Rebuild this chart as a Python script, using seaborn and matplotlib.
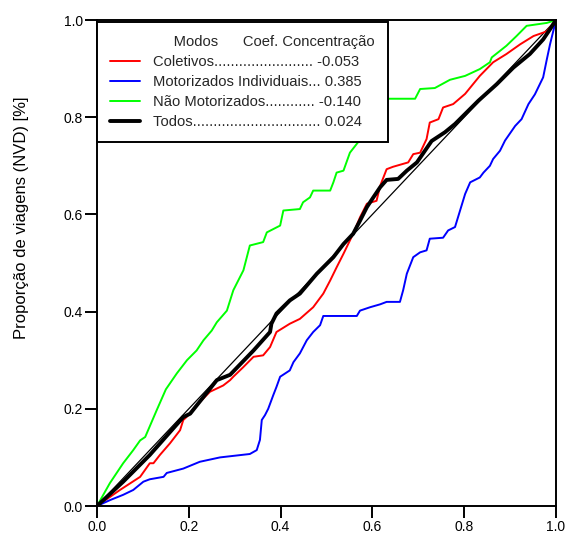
import numpy as np
import pandas as pd
import matplotlib
matplotlib.use("Agg")
import matplotlib.pyplot as plt
import seaborn as sns
from matplotlib.lines import Line2D
from matplotlib.font_manager import FontProperties

# ---------------- data ----------------
diag_x = [0.0, 1.0]
diag_y = [0.0, 1.0]

col_x = [0, 0.05, 0.094, 0.115, 0.123, 0.137, 0.159, 0.181, 0.188, 0.195, 0.217, 0.246, 0.275, 0.29,
         0.297, 0.319, 0.341, 0.362, 0.377, 0.391, 0.42, 0.442, 0.471, 0.493, 0.508, 0.522, 0.537,
         0.558, 0.573, 0.588, 0.609, 0.617, 0.631, 0.645, 0.678, 0.689, 0.704, 0.718, 0.725, 0.744,
         0.754, 0.776, 0.802, 0.834, 0.863, 0.892, 0.922, 0.951, 0.972, 0.98, 1.0]
col_y = [0, 0.033, 0.06, 0.088, 0.088, 0.105, 0.129, 0.156, 0.177, 0.183, 0.207, 0.235, 0.248, 0.259,
         0.266, 0.286, 0.307, 0.31, 0.327, 0.358, 0.375, 0.385, 0.409, 0.437, 0.464, 0.491, 0.519,
         0.56, 0.594, 0.622, 0.628, 0.659, 0.693, 0.698, 0.707, 0.724, 0.727, 0.755, 0.789, 0.796,
         0.82, 0.827, 0.848, 0.885, 0.913, 0.93, 0.95, 0.967, 0.974, 0.977, 1.0]

mot_x = [0, 0.028, 0.057, 0.079, 0.101, 0.115, 0.145, 0.152, 0.188, 0.224, 0.268, 0.333, 0.348, 0.355,
         0.359, 0.366, 0.373, 0.384, 0.391, 0.399, 0.42, 0.428, 0.442, 0.457, 0.471, 0.486, 0.493,
         0.566, 0.573, 0.595, 0.617, 0.631, 0.66, 0.667, 0.675, 0.689, 0.704, 0.718, 0.725, 0.754,
         0.765, 0.78, 0.791, 0.802, 0.813, 0.834, 0.842, 0.856, 0.863, 0.878, 0.889, 0.911, 0.925,
         0.94, 0.954, 0.972, 0.98, 0.987, 0.994, 1.0]
mot_y = [0, 0.012, 0.023, 0.033, 0.05, 0.055, 0.06, 0.068, 0.077, 0.091, 0.10, 0.107, 0.115, 0.136,
         0.177, 0.187, 0.20, 0.228, 0.245, 0.266, 0.279, 0.296, 0.314, 0.341, 0.358, 0.372, 0.391,
         0.391, 0.402, 0.409, 0.415, 0.42, 0.42, 0.444, 0.478, 0.512, 0.522, 0.526, 0.55, 0.552,
         0.567, 0.574, 0.608, 0.642, 0.666, 0.676, 0.686, 0.70, 0.714, 0.731, 0.752, 0.782, 0.796,
         0.827, 0.847, 0.882, 0.919, 0.95, 0.977, 1.0]

nmot_x = [0, 0.028, 0.057, 0.079, 0.094, 0.105, 0.13, 0.15, 0.174, 0.196, 0.217, 0.232, 0.25, 0.261,
          0.283, 0.297, 0.319, 0.333, 0.362, 0.37, 0.399, 0.406, 0.442, 0.449, 0.464, 0.471, 0.508,
          0.515, 0.522, 0.537, 0.551, 0.57, 0.6, 0.62, 0.635, 0.693, 0.704, 0.736, 0.769, 0.802,
          0.834, 0.856, 0.86, 0.892, 0.914, 0.936, 0.98, 1.0]
nmot_y = [0, 0.047, 0.088, 0.115, 0.135, 0.142, 0.197, 0.24, 0.273, 0.30, 0.32, 0.341, 0.361, 0.378,
          0.402, 0.444, 0.485, 0.536, 0.543, 0.563, 0.577, 0.608, 0.611, 0.625, 0.635, 0.649, 0.649,
          0.666, 0.686, 0.69, 0.727, 0.75, 0.79, 0.815, 0.838, 0.838, 0.858, 0.86, 0.877, 0.885,
          0.899, 0.913, 0.923, 0.947, 0.967, 0.988, 0.994, 1.0]

tod_x = [0, 0.057, 0.115, 0.188, 0.203, 0.261, 0.29, 0.341, 0.377, 0.38, 0.391, 0.42, 0.442, 0.479,
         0.515, 0.537, 0.558, 0.573, 0.588, 0.602, 0.617, 0.631, 0.656, 0.675, 0.697, 0.729, 0.758,
         0.78, 0.831, 0.871, 0.907, 0.943, 0.972, 0.987, 1.0]
tod_y = [0, 0.05, 0.105, 0.183, 0.19, 0.259, 0.27, 0.32, 0.358, 0.375, 0.396, 0.423, 0.437, 0.478,
         0.512, 0.539, 0.56, 0.587, 0.615, 0.635, 0.656, 0.671, 0.673, 0.69, 0.707, 0.751, 0.769,
         0.786, 0.834, 0.868, 0.902, 0.93, 0.96, 0.981, 1.0]

modes = ["Coletivos", "Motorizados Individuais", "Não Motorizados", "Todos"]
coefs = ["-0.053", "0.385", "-0.140", "0.024"]
header_left = "Modos"
header_right = "Coef. Concentração"
tick_vals = [0.0, 0.2, 0.4, 0.6, 0.8, 1.0]
tick_labels = ["0.0", "0.2", "0.4", "0.6", "0.8", "1.0"]
ylabel = "Proporção de viagens (NVD) [%]"

# ---------------- style ----------------
sns.set_style("ticks")
plt.rcParams["font.family"] = ["Liberation Sans", "DejaVu Sans"]

fig = plt.figure(figsize=(5.69, 5.43), dpi=100)
ax = fig.add_axes([97 / 569, 1 - 506 / 543, 459 / 569, 486 / 543])

sns.lineplot(x=diag_x, y=diag_y, color="black", lw=0.9, sort=False, estimator=None, ax=ax, legend=False)
series = [(col_x, col_y, "#ff0000", 1.4), (mot_x, mot_y, "#0000ff", 1.4),
          (nmot_x, nmot_y, "#00ff00", 1.4), (tod_x, tod_y, "black", 2.8)]
for xs, ys, c, lw in series:
    sns.lineplot(x=xs, y=ys, color=c, lw=lw, sort=False, estimator=None, ax=ax, legend=False)

ax.set_xlim(0, 1)
ax.set_ylim(0, 1)
ax.set_xticks(tick_vals)
ax.set_xticklabels(tick_labels)
ax.set_yticks(tick_vals)
ax.set_yticklabels(tick_labels)
ax.tick_params(direction="out", length=8.5, width=1.4, pad=1.5, labelsize=10,
               colors="black", right=False, top=False)
for s in ax.spines.values():
    s.set_visible(True)
    s.set_color("black")
    s.set_linewidth(1.4)
ax.set_xlabel("")
ax.set_ylabel(ylabel, fontsize=12, color="black")
ax.yaxis.set_label_coords(-0.149, 0.594)

# ---------------- legend ----------------
leg_fs = 10.6
fp = FontProperties(family=["Liberation Sans"], size=leg_fs)
renderer = fig.canvas.get_renderer()

def tw(s):
    return renderer.get_text_width_height_descent(s, fp, ismath=False)[0]

target = tw("Motorizados Individuais... 0.385")
labels = []
for name, cf in zip(modes, coefs):
    n = 0
    while tw(name + "." * (n + 1) + " " + cf) <= target + 1.0:
        n += 1
    labels.append(name + "." * n + " " + cf)

header = "     " + header_left + "      " + header_right
handles = [Line2D([], [], color="none")] + list(ax.lines[1:5])
labels = [header] + labels

leg = ax.legend(handles, labels, loc="upper left", bbox_to_anchor=(0, 0.996),
                borderaxespad=0, fontsize=leg_fs, frameon=True, fancybox=False,
                framealpha=1, edgecolor="black", borderpad=0.9, labelspacing=0.4,
                handlelength=2.0, handletextpad=0.9)
leg.get_frame().set_linewidth(1.4)
leg.set_zorder(10)

fig.savefig("out.png", dpi=100)
